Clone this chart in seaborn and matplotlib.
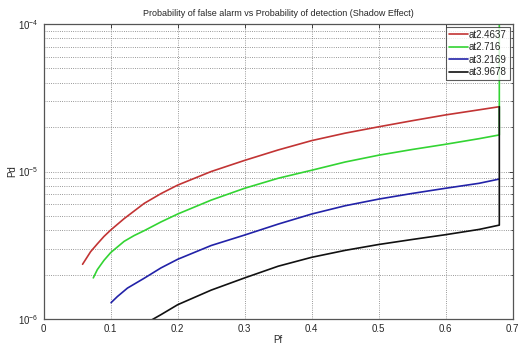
import numpy as np
import pandas as pd
import matplotlib
matplotlib.use("Agg")
import matplotlib.pyplot as plt
import seaborn as sns
from matplotlib.ticker import LogLocator, FixedLocator


# =========================================
# DATA
# =========================================

labels = ["at2.4637", "at2.716", "at3.2169", "at3.9678"]
colors = ["#c23434", "#33d433", "#2222a8", "#111111"]

pf_red = [0.058, 0.07, 0.08, 0.09, 0.10, 0.12, 0.15, 0.175, 0.20, 0.25, 0.30,
          0.35, 0.40, 0.45, 0.50, 0.55, 0.60, 0.65, 0.68]
pd_red = [2.35e-6, 2.86e-6, 3.23e-6, 3.63e-6, 4.01e-6, 4.79e-6, 6.08e-6, 7.08e-6,
          8.09e-6, 1.0e-5, 1.19e-5, 1.40e-5, 1.62e-5, 1.82e-5, 2.01e-5, 2.21e-5,
          2.42e-5, 2.62e-5, 2.75e-5]

pf_green = [0.074, 0.08, 0.09, 0.10, 0.12, 0.135, 0.15, 0.175, 0.20, 0.25, 0.30,
            0.35, 0.40, 0.45, 0.50, 0.55, 0.60, 0.65, 0.68, 0.68]
pd_green = [1.9e-6, 2.16e-6, 2.5e-6, 2.82e-6, 3.36e-6, 3.68e-6, 3.97e-6, 4.55e-6,
            5.15e-6, 6.4e-6, 7.7e-6, 9.0e-6, 1.02e-5, 1.16e-5, 1.29e-5, 1.41e-5,
            1.53e-5, 1.67e-5, 1.77e-5, 3.0e-4]

pf_blue = [0.1005, 0.11, 0.125, 0.15, 0.175, 0.20, 0.25, 0.30, 0.35, 0.40, 0.45,
           0.50, 0.55, 0.60, 0.65, 0.68]
pd_blue = [1.29e-6, 1.42e-6, 1.62e-6, 1.89e-6, 2.22e-6, 2.54e-6, 3.15e-6, 3.71e-6,
           4.4e-6, 5.15e-6, 5.86e-6, 6.5e-6, 7.1e-6, 7.7e-6, 8.32e-6, 8.89e-6]

pf_black = [0.155, 0.175, 0.20, 0.25, 0.30, 0.35, 0.40, 0.45, 0.50, 0.55, 0.60,
            0.65, 0.68, 0.68]
pd_black = [0.95e-6, 1.07e-6, 1.25e-6, 1.57e-6, 1.9e-6, 2.28e-6, 2.62e-6, 2.92e-6,
            3.2e-6, 3.46e-6, 3.73e-6, 4.05e-6, 4.33e-6, 2.75e-5]

x_ticks = [0, 0.1, 0.2, 0.3, 0.4, 0.5, 0.6, 0.7]
x_tick_labels = ["0", "0.1", "0.2", "0.3", "0.4", "0.5", "0.6", "0.7"]


# =========================================
# LONG FORM TABLE
# =========================================

frames = []
for name, xs, ys in zip(labels,
                        [pf_red, pf_green, pf_blue, pf_black],
                        [pd_red, pd_green, pd_blue, pd_black]):
    frames.append(pd.DataFrame({"Pf": xs, "Pd": ys, "series": name}))
df = pd.concat(frames, ignore_index=True)


# =========================================
# PLOT
# =========================================

sns.set_style("white")
plt.rcParams["font.family"] = ["Liberation Sans", "DejaVu Sans"]

fig = plt.figure(figsize=(5.21, 3.44), dpi=100)
ax = fig.add_axes([0.0839, 0.0727, 0.9002, 0.8575])

sns.lineplot(
    data=df,
    x="Pf",
    y="Pd",
    hue="series",
    hue_order=labels,
    palette=colors,
    estimator=None,
    sort=False,
    units="series",
    linewidth=1.2,
    ax=ax,
    legend=False
)

ax.set_yscale("log")
ax.set_xlim(0, 0.7)
ax.set_ylim(1e-6, 1e-4)

ax.xaxis.set_major_locator(FixedLocator(x_ticks))
ax.set_xticklabels(x_tick_labels)
ax.yaxis.set_major_locator(LogLocator(base=10, numticks=5))
ax.yaxis.set_minor_locator(LogLocator(base=10, subs=np.arange(2, 10), numticks=20))

ax.grid(True, which="major", axis="both", linestyle=":", color="#777777", linewidth=0.6)
ax.grid(True, which="minor", axis="y", linestyle=":", color="#777777", linewidth=0.6)

ax.tick_params(axis="both", which="both", direction="in", labelsize=7,
               top=True, right=True, length=3, width=0.6)
ax.tick_params(axis="y", which="minor", length=1.5)

for spine in ax.spines.values():
    spine.set_color("#555555")
    spine.set_linewidth(0.9)

ax.set_title("Probability of false alarm vs Probability of detection (Shadow Effect)",
             fontsize=6.5, pad=6)
ax.set_xlabel("Pf", fontsize=7, labelpad=1)
ax.set_ylabel("Pd", fontsize=7, labelpad=1)

handles = [plt.Line2D([], [], color=c, linewidth=1.2) for c in colors]
leg = ax.legend(handles, labels, loc="upper right", fontsize=7,
                frameon=True, fancybox=False, borderpad=0.3, labelspacing=0.25,
                handlelength=2.0, handletextpad=0.1, borderaxespad=0.3)
leg.get_frame().set_edgecolor("#333333")
leg.get_frame().set_linewidth(0.8)

plt.savefig("out.png", dpi=100)
